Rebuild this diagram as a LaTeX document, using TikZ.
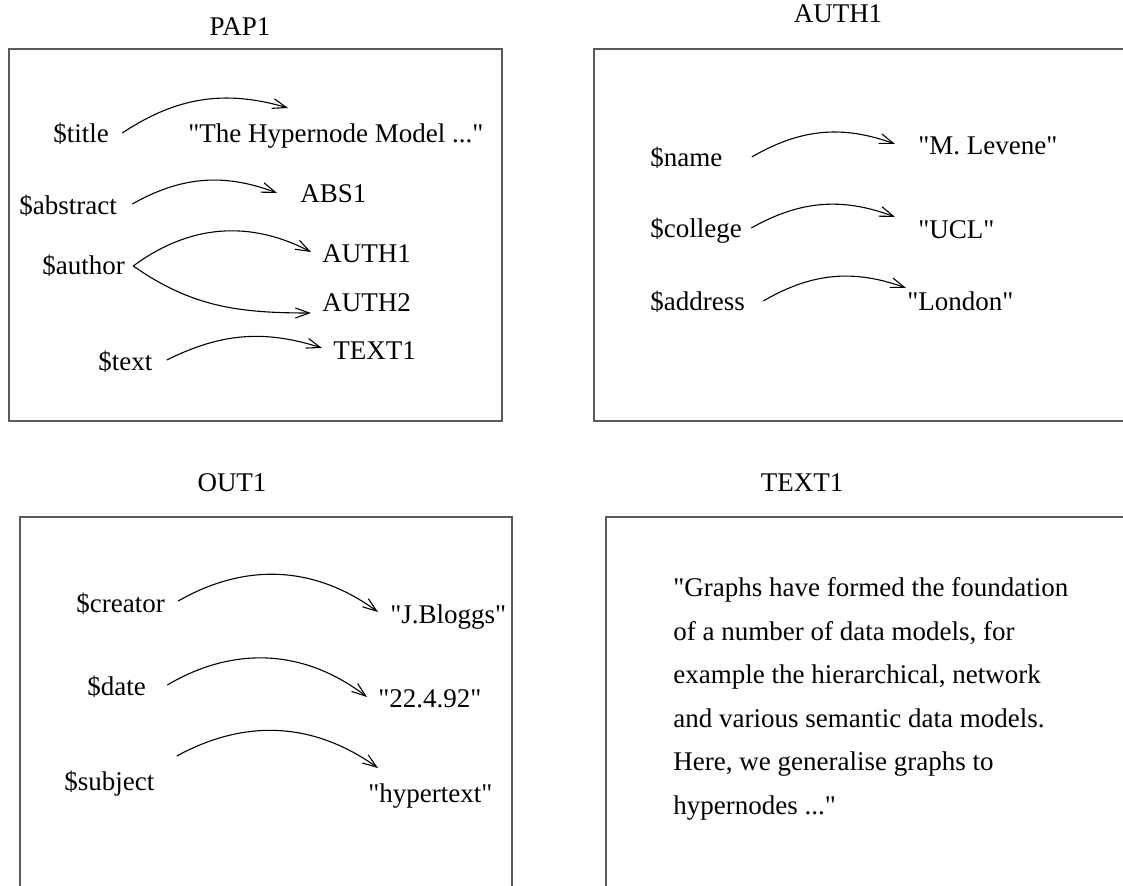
\documentclass[tikz,border=0pt]{standalone}
\usepackage{fontspec}
\setmainfont{Liberation Serif}[Ligatures=TeXOff]
\usetikzlibrary{arrows.meta,calc}
\definecolor{frameCol}{HTML}{5A5A5A}
\newcommand{\lblfont}{\fontsize{13.5}{16}\selectfont}
\tikzstyle{frame}=[draw=frameCol, line width=0.8pt]
\tikzstyle{title}=[font=\lblfont, inner sep=0pt, anchor=base]
\tikzstyle{attr}=[font=\lblfont, inner sep=0pt, anchor=base west]
\tikzstyle{link}=[line width=0.55pt, -{Straight Barb[length=7pt,width=5pt]}]

\begin{document}
\begin{tikzpicture}[x=0.5pt, y=-0.5pt]
    \clip (0,0) rectangle (1123,886);

    % ==== FRAMES ====
    \draw[frame] (9,49) rectangle (502,421);
    \draw[frame] (594,49) rectangle (1140,421);
    \draw[frame] (20,517) rectangle (512,900);
    \draw[frame] (606,517) rectangle (1140,900);

    \node[title] (pap1) at (240,36) {PAP1};
    \node[title] (auth1) at (838,23) {AUTH1};
    \node[title] (out1) at (232,492) {OUT1};
    \node[title] (text1) at (802,492) {TEXT1};

    % === PAP1 ===
    \node[attr] (k_title) at (53,143) {\$title};
    \node[attr] (v_title) at (188,143) {"The Hypernode Model ..."};
    \node[attr] (k_abstract) at (19,215) {\$abstract};
    \node[attr] (v_abstract) at (300,203) {ABS1};
    \node[attr] (k_author) at (42,275) {\$author};
    \node[attr] (v_auth1) at (322,263) {AUTH1};
    \node[attr] (v_auth2) at (322,312) {AUTH2};
    \node[attr] (k_text) at (98,371) {\$text};
    \node[attr] (v_text) at (333,360) {TEXT1};

    \draw[link] ($(k_title.base east)+(13,-10)$) to[bend left=25] ($(v_title.base west)+(100,-35)$);
    \draw[link] ($(k_abstract.base east)+(15,-11)$) to[bend left=25] ($(v_abstract.base west)+(-23,-10)$);
    \draw[link] ($(k_author.base east)+(8,-9)$) to[bend left=32] ($(v_auth1.base west)+(-11,-11)$);
    \draw[link] ($(k_author.base east)+(8,-9)$) to[out=-35, in=180] ($(v_auth2.base west)+(-11,1)$);
    \draw[link] ($(k_text.base east)+(14,-11)$) to[bend left=22] ($(v_text.base west)+(-11,-12)$);

    % === AUTH1 ===
    \node[attr] (k_name) at (650,167) {\$name};
    \node[attr] (v_name) at (918,155) {"M. Levene"};
    \node[attr] (k_college) at (650,238) {\$college};
    \node[attr] (v_college) at (918,239) {"UCL"};
    \node[attr] (k_address) at (650,311) {\$address};
    \node[attr] (v_address) at (907,311) {"London"};

    \draw[link] ($(k_name.base east)+(29,-10)$) to[bend left=25] ($(v_name.base west)+(-23,-11)$);
    \draw[link] ($(k_college.base east)+(9,-10)$) to[bend left=25] ($(v_college.base west)+(-23,-22)$);
    \draw[link] ($(k_address.base east)+(18,-10)$) to[bend left=25] ($(v_address.base west)+(-1,-23)$);

    % === OUT1 ===
    \node[attr] (k_creator) at (76,612) {\$creator};
    \node[attr] (v_creator) at (390,623) {"J.Bloggs"};
    \node[attr] (k_date) at (87,695) {\$date};
    \node[attr] (v_date) at (378,707) {"22.4.92"};
    \node[attr] (k_subject) at (64,790) {\$subject};
    \node[attr] (v_subject) at (368,802) {"hypertext"};

    \draw[link] ($(k_creator.base east)+(13,-11)$) to[bend left=33] ($(v_creator.base west)+(-12,-11)$);
    \draw[link] ($(k_date.base east)+(21,-10)$) to[bend left=34] ($(v_date.base west)+(-11,-10)$);
    \draw[link] ($(k_subject.base east)+(22,-34)$) to[bend left=32] ($(v_subject.base west)+(10,-34)$);

    % === TEXT1 ===
    % base anchor sits on the last line here
    \node[attr, align=left, font={\fontsize{13.5}{21.75}\selectfont}] (body) at (673,814)
        {"Graphs have formed the foundation\\
         of a number of data models, for\\
         example the hierarchical, network\\
         and various semantic data models.\\
         Here, we generalise graphs to\\
         hypernodes ..."};

\end{tikzpicture}
\end{document}
